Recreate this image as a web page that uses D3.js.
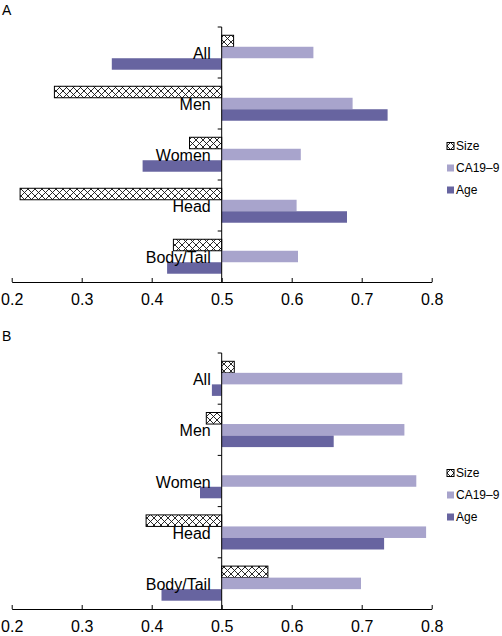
<!DOCTYPE html>
<html><head><meta charset="utf-8">
<script src="https://cdn.jsdelivr.net/npm/d3@7/dist/d3.min.js"></script>
<style>body{margin:0;background:#fff}svg{display:block}text{font-family:"Liberation Sans",Arial,sans-serif}</style>
</head><body><svg id="c" width="502" height="636"></svg>
<script>
const categories = ["All", "Men", "Women", "Head", "Body/Tail"];
const seriesNames = ["Size", "CA19\u20139", "Age"];
const panelA_size = [0.517, 0.261, 0.454, 0.212, 0.431];
const panelA_ca199 = [0.631, 0.687, 0.613, 0.607, 0.609];
const panelA_age = [0.343, 0.737, 0.387, 0.679, 0.422];
const panelB_size = [0.518, 0.478, 0.5, 0.392, 0.566];
const panelB_ca199 = [0.758, 0.761, 0.778, 0.792, 0.699];
const panelB_age = [0.486, 0.66, 0.469, 0.732, 0.414];
const xTicks = [0.2, 0.3, 0.4, 0.5, 0.6, 0.7, 0.8];
const panels = [
  {label: "A", values: [panelA_size, panelA_ca199, panelA_age], top: 27, bottom: 282, legendY: 146},
  {label: "B", values: [panelB_size, panelB_ca199, panelB_age], top: 353, bottom: 609, legendY: 473}
];
const colors = {"Size": "url(#hatch)", "CA19\u20139": "#a8a4cc", "Age": "#6764a0"};

const svg = d3.select("#c");
const defs = svg.append("defs");
const P = 7;
const pat = defs.append("pattern").attr("id", "hatch").attr("patternUnits", "userSpaceOnUse")
  .attr("width", P).attr("height", P);
pat.append("rect").attr("width", P).attr("height", P).attr("fill", "#fff");
pat.append("path").attr("d", `M0,0L${P},${P}M${P},0L0,${P}M-1,${P-1}L1,${P+1}M${P-1},-1L${P+1},1M-1,1L1,-1M${P-1},${P+1}L${P+1},${P-1}`)
  .attr("stroke", "#111").attr("stroke-width", 0.9);

const x = d3.scaleLinear().domain([0.2, 0.8]).range([11.7, 431.7]);

panels.forEach((p, pi) => {
  const g = svg.append("g");
  const y = d3.scaleBand().domain(categories).range([p.top, p.bottom]).padding(0);
  const ys = d3.scaleBand().domain(seriesNames).range([0, y.bandwidth()]).paddingInner(0).paddingOuter(0.72);

  g.append("text").attr("x", 2).attr("y", p.top - 12).text(p.label)
    .attr("font-size", 14).attr("fill", "#000");

  seriesNames.forEach((s, si) => {
    g.selectAll(null).data(categories).enter().append("rect")
      .attr("x", (c, i) => Math.min(x(p.values[si][i]), x(0.5)))
      .attr("y", c => y(c) + ys(s))
      .attr("width", (c, i) => Math.abs(x(p.values[si][i]) - x(0.5)))
      .attr("height", ys.bandwidth())
      .attr("fill", colors[s])
      .attr("stroke", s === "Size" ? "#000" : "none")
      .attr("stroke-width", 1)
      .attr("visibility", (c, i) => Math.abs(p.values[si][i] - 0.5) < 1e-6 ? "hidden" : "visible");
  });

  // x axis
  const xa = g.append("g").attr("transform", `translate(0,${p.bottom})`)
    .call(d3.axisBottom(x).tickValues(xTicks).tickFormat(d3.format(".1f")).tickSize(0).tickSizeOuter(0).tickPadding(0));
  xa.select(".domain").attr("stroke", "#000");
  xa.selectAll(".tick line").attr("stroke", "#000").attr("y1", -4).attr("y2", 0);
  xa.selectAll(".tick text").attr("font-size", 16).attr("font-family", "Liberation Sans, Arial, sans-serif")
    .attr("fill", "#000").attr("y", 23).attr("dy", 0);

  // y axis at 0.5
  const ya = g.append("g").attr("transform", `translate(${x(0.5)},0)`);
  ya.append("line").attr("x1", 0).attr("x2", 0).attr("y1", p.top).attr("y2", p.bottom).attr("stroke", "#000");
  const tickYs = categories.map(c => y(c));
  ya.selectAll(null).data(tickYs).enter().append("line")
    .attr("x1", -4).attr("x2", 0).attr("y1", d => d).attr("y2", d => d).attr("stroke", "#000");
  ya.selectAll(null).data(categories).enter().append("text")
    .attr("x", -11).attr("y", c => y(c) + y.bandwidth() / 2 + 6.5)
    .attr("text-anchor", "end")
    .attr("font-size", 16).attr("fill", "#000").text(c => c);

  // legend
  const lg = g.append("g").attr("transform", `translate(447,${p.legendY})`);
  seriesNames.forEach((s, si) => {
    const row = lg.append("g").attr("transform", `translate(0,${si * 22})`);
    row.append("rect").attr("x", 0).attr("y", -3.5).attr("width", 7).attr("height", 7)
      .attr("fill", colors[s]).attr("stroke", s === "Size" ? "#000" : "none");
    row.append("text").attr("x", 9).attr("y", 4.3)
      .attr("font-size", 12).attr("fill", "#000").text(s);
  });
});
</script></body></html>
